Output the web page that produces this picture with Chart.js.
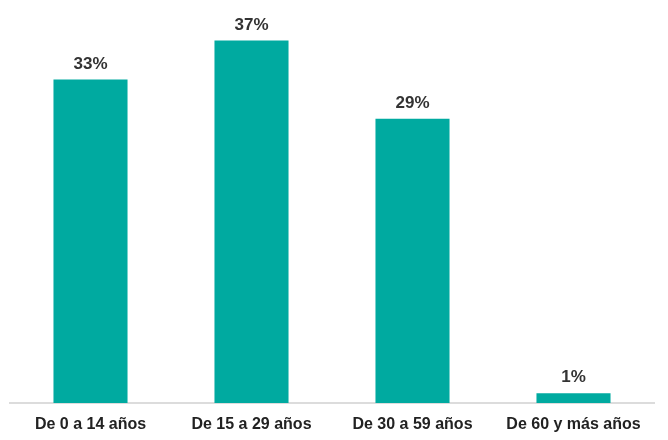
<!DOCTYPE html>
<html>
<head>
<meta charset="utf-8">
<script src="https://cdn.jsdelivr.net/npm/chart.js@4"></script>
<style>
  html, body { margin: 0; padding: 0; background: #fff; }
  #wrap { width: 668px; height: 440px; }
</style>
</head>
<body>
<div id="wrap"><canvas id="myChart" width="668" height="440"></canvas></div>
<script>
const categories = ['De 0 a 14 años', 'De 15 a 29 años', 'De 30 a 59 años', 'De 60 y más años'];
const values = [33, 37, 29, 1];
const barColor = '#00aaa0';

// etiquetas de porcentaje encima de cada barra
const valueLabels = {
    id: 'valueLabels',
    afterDatasetsDraw(chart) {
        const ctx = chart.ctx;
        const meta = chart.getDatasetMeta(0);
        ctx.save();
        ctx.font = 'bold 17px "Liberation Sans", Arial, sans-serif';
        ctx.fillStyle = '#333';
        ctx.textAlign = 'center';
        ctx.textBaseline = 'bottom';
        meta.data.forEach((bar, i) => {
            ctx.fillText(values[i] + '%', bar.x, bar.y - 7);
        });
        ctx.restore();
    }
};

const ctx = document.getElementById('myChart').getContext('2d');
new Chart(ctx, {
    type: 'bar',
    data: {
        labels: categories,
        datasets: [{
            data: values,
            backgroundColor: barColor,
            borderWidth: 0,
            categoryPercentage: 0.92,
            barPercentage: 0.5
        }]
    },
    options: {
        responsive: false,
        animation: false,
        layout: { padding: { top: 11, left: 10, right: 14, bottom: 0 } },
        plugins: { legend: { display: false }, tooltip: { enabled: false } },
        scales: {
            x: {
                afterFit: (scale) => { scale.height = 37; },
                grid: { display: false, drawTicks: false },
                border: { display: true, color: '#dcdcdc', width: 2 },
                ticks: {
                    color: '#222',
                    font: { family: '"Liberation Sans", Arial, sans-serif', size: 16, weight: 'bold' },
                    padding: 12,
                    maxRotation: 0,
                    autoSkip: false
                }
            },
            y: { display: false, min: 0, max: 40 }
        }
    },
    plugins: [valueLabels]
});
</script>
</body>
</html>
